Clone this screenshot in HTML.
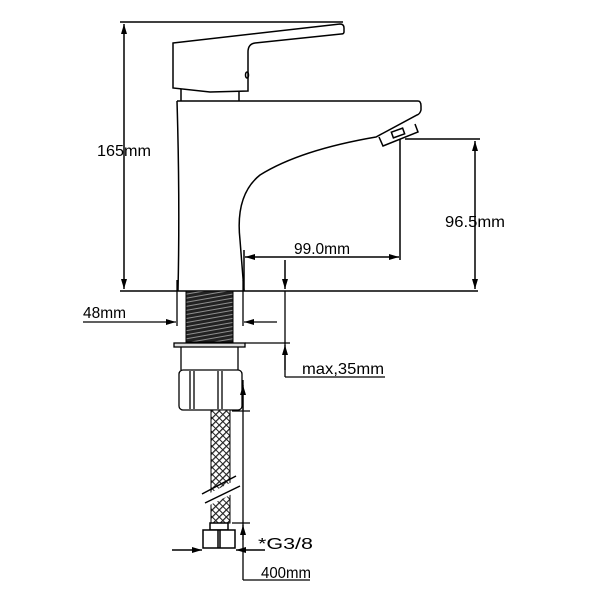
<!DOCTYPE html>
<html><head><style>body{margin:0;background:#fff}svg{display:block}text{font-family:"Liberation Sans",sans-serif;font-size:16px;fill:#000}</style></head><body>
<svg width="600" height="600" viewBox="0 0 600 600" xmlns="http://www.w3.org/2000/svg">
<defs>
<marker id="a" markerWidth="10" markerHeight="6" refX="10" refY="3" orient="auto-start-reverse" markerUnits="userSpaceOnUse"><path d="M0,0 L10,3 L0,6 Z" fill="#000"/></marker>
<pattern id="th" width="6" height="4" patternUnits="userSpaceOnUse" patternTransform="rotate(-10)"><rect width="6" height="4" fill="#222"/><line x1="0" y1="2" x2="6" y2="2" stroke="#aaa" stroke-width="0.8"/></pattern>
<pattern id="hs" width="5" height="5" patternUnits="userSpaceOnUse" patternTransform="rotate(45)"><rect width="5" height="5" fill="#fff"/><line x1="0" y1="0" x2="0" y2="5" stroke="#222" stroke-width="2.5"/><line x1="0" y1="0" x2="5" y2="0" stroke="#222" stroke-width="2"/></pattern>
</defs>
<g fill="none" stroke="#000" stroke-width="1.5">
<line x1="120" y1="22" x2="343" y2="22"/>
<line x1="120" y1="291" x2="478" y2="291"/>
<line x1="124" y1="24" x2="124" y2="289" marker-start="url(#a)" marker-end="url(#a)"/>
<path d="M173,43 L340,24 Q344,24 344,28 L344,32 Q344,34 341,34 L255,43 Q248,44 248,52 L248,91 L210,92 L173,88 Z"/>
<path d="M181,89 L181,101 M239,91 L239,101"/>
<ellipse cx="247" cy="75" rx="1.5" ry="3"/>
<path d="M177,101 L418,101 Q421,101 421,106 L421,110 Q420,114 417,115 L376,137 Q300,150 260,175 Q235,195 240,240 L244,291"/>
<path d="M177,101 Q180,200 178,291"/>
<path d="M379,137 L383,146 L418,132 L415,124"/>
<rect x="392" y="130" width="12" height="6" transform="rotate(-20 398 133)"/>
<line x1="400" y1="139" x2="400" y2="260"/>
<line x1="245" y1="257" x2="399" y2="257" marker-start="url(#a)" marker-end="url(#a)"/>
<line x1="244" y1="250" x2="244" y2="291"/>
<line x1="285" y1="260" x2="285" y2="289" marker-end="url(#a)"/>
<line x1="405" y1="139" x2="480" y2="139"/>
<line x1="475" y1="141" x2="475" y2="289" marker-start="url(#a)" marker-end="url(#a)"/>
</g>
<rect x="186" y="291" width="47" height="51" fill="url(#th)" stroke="#000"/>
<g fill="none" stroke="#000" stroke-width="1.3">
<line x1="177" y1="280" x2="177" y2="326"/>
<line x1="243" y1="280" x2="243" y2="326"/>
<line x1="83" y1="322" x2="176" y2="322" marker-end="url(#a)"/>
<line x1="277" y1="322" x2="244" y2="322" marker-end="url(#a)"/>
<rect x="174" y="343" width="71" height="4" fill="#ddd"/>
<line x1="245" y1="343" x2="290" y2="343"/>
<line x1="181" y1="347" x2="181" y2="370"/><line x1="238" y1="347" x2="238" y2="370"/>
<rect x="179" y="370" width="63" height="40" rx="4"/>
<line x1="190" y1="371" x2="190" y2="409"/><line x1="194" y1="371" x2="194" y2="409"/>
<line x1="218" y1="371" x2="218" y2="409"/><line x1="222" y1="371" x2="222" y2="409"/>
<line x1="285" y1="291" x2="285" y2="377"/>
<line x1="285" y1="377" x2="385" y2="377"/>
<line x1="285" y1="370" x2="285" y2="345" marker-end="url(#a)"/>
<line x1="243" y1="380" x2="243" y2="580"/>
<line x1="243" y1="385" x2="243" y2="410" marker-start="url(#a)"/>
<line x1="243" y1="540" x2="243" y2="525" marker-end="url(#a)"/>
<line x1="243" y1="580" x2="310" y2="580"/>
<line x1="232" y1="411" x2="250" y2="411"/><line x1="232" y1="523" x2="250" y2="523"/>
</g>
<rect x="211" y="410" width="19" height="113" fill="url(#hs)" stroke="#000"/>
<polygon points="200,498 236,480 240,490 204,508" fill="#fff"/>
<g fill="none" stroke="#000" stroke-width="1.5">
<line x1="202" y1="494" x2="236" y2="476"/>
<line x1="205" y1="503" x2="240" y2="486"/>
<rect x="210" y="523" width="18" height="7"/>
<rect x="203" y="530" width="32" height="18" fill="#fff"/>
<line x1="218" y1="530" x2="218" y2="548"/><line x1="220" y1="530" x2="220" y2="548"/>
<line x1="172" y1="550" x2="202" y2="550" marker-end="url(#a)"/>
<line x1="265" y1="550" x2="236" y2="550" marker-end="url(#a)"/>
</g>
<text x="97" y="156" textLength="54" lengthAdjust="spacingAndGlyphs">165mm</text>
<text x="294" y="254" textLength="56" lengthAdjust="spacingAndGlyphs">99.0mm</text>
<text x="445" y="227" textLength="60" lengthAdjust="spacingAndGlyphs">96.5mm</text>
<text x="83" y="318" textLength="43" lengthAdjust="spacingAndGlyphs">48mm</text>
<text x="302" y="374" textLength="82" lengthAdjust="spacingAndGlyphs">max,35mm</text>
<text x="258" y="549" textLength="55" lengthAdjust="spacingAndGlyphs">*G3/8</text>
<text x="261" y="578" textLength="50" lengthAdjust="spacingAndGlyphs">400mm</text>
</svg>
</body></html>
